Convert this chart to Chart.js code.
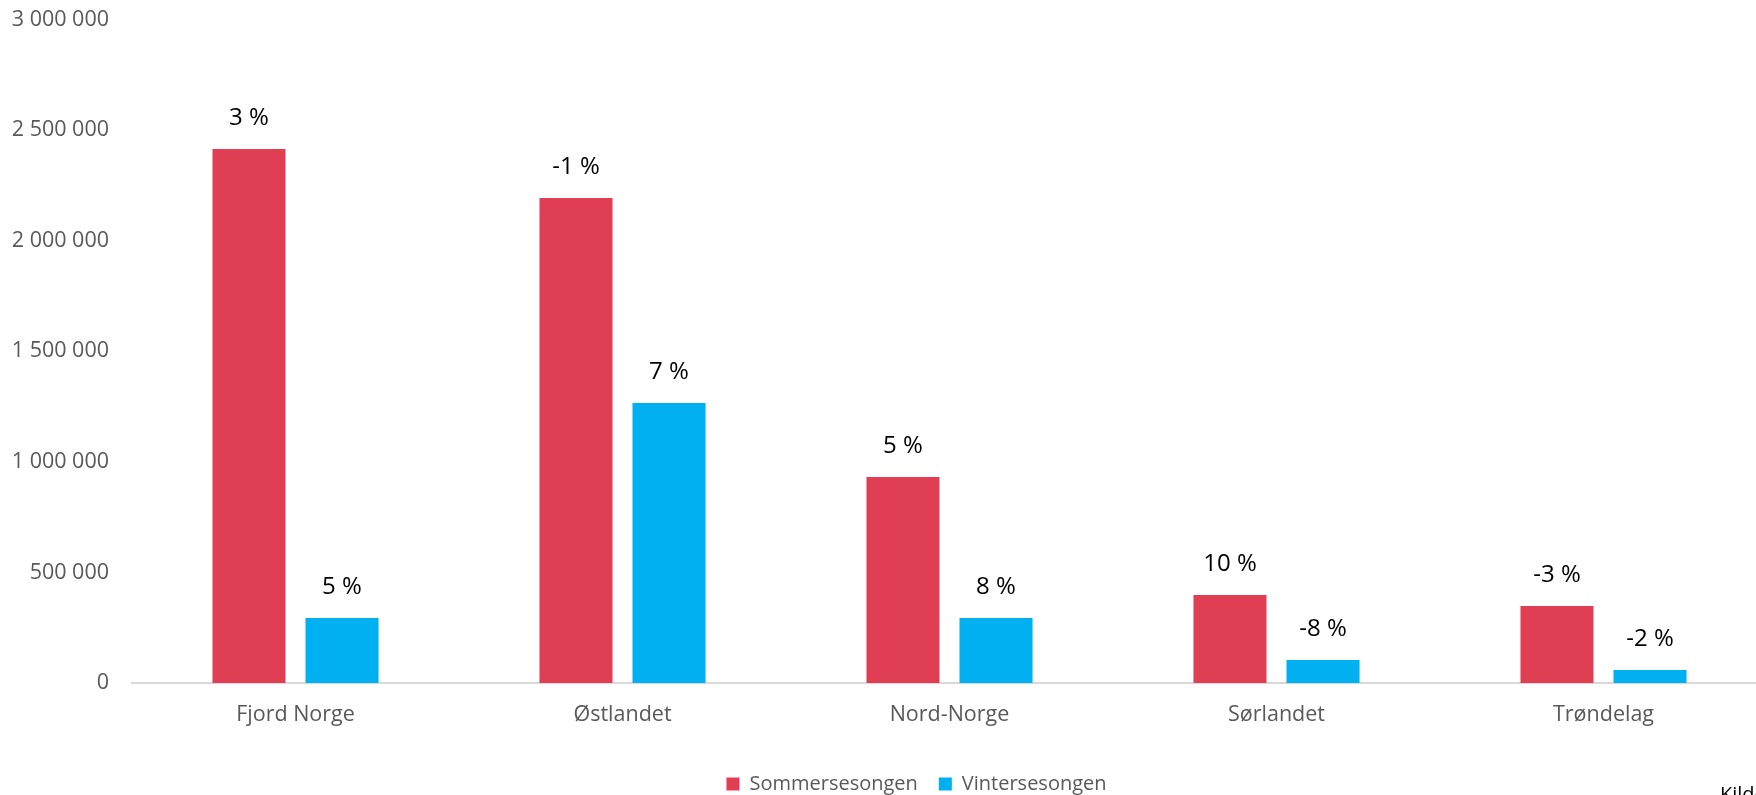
<!DOCTYPE html>
<html>
<head>
<meta charset="utf-8">
<script src="https://cdn.jsdelivr.net/npm/chart.js@4.4.1/dist/chart.umd.min.js"></script>
<style>
  html, body { margin: 0; padding: 0; background: #fff; }
  #wrap { width: 1756px; height: 795px; overflow: hidden; position: relative; }
  #box { width: 1770px; height: 804px; position: absolute; left: 0; top: 0; }
</style>
</head>
<body>
<div id="wrap"><div id="box"><canvas id="barChart"></canvas></div></div>
<script>
// Data

const regions = ['Fjord Norge', 'Østlandet', 'Nord-Norge', 'Sørlandet', 'Trøndelag'];
const summer = [2414000, 2193000, 931000, 398000, 348000];
const winter = [294000, 1266000, 294000, 104000, 59000];
const summerChange = [3, -1, 5, 10, -3];
const winterChange = [5, 7, 8, -8, -2];
const yTicks = [0, 500000, 1000000, 1500000, 2000000, 2500000, 3000000];

const red = '#E03E53';
const blue = '#00B0F0';
const grey = '#595959';

function spaced(v) {
    return String(v).replace(/\B(?=(\d{3})+(?!\d))/g, ' ');
}

// percent labels above the bars
const pctLabels = {
    id: 'pctLabels',
    afterDatasetsDraw(chart) {
        const ctx = chart.ctx;
        ctx.save();
        ctx.font = '24px "Open Sans"';
        ctx.fillStyle = '#000';
        ctx.textAlign = 'center';
        ctx.textBaseline = 'middle';
        chart.data.datasets.forEach((ds, i) => {
            chart.getDatasetMeta(i).data.forEach((bar, j) => {
                ctx.fillText(ds.changes[j] + ' %', bar.x, bar.y - 31);
            });
        });
        ctx.restore();
    }
};

// source note, cut off at the bottom right corner
const sourceNote = {
    id: 'sourceNote',
    afterDraw(chart) {
        const ctx = chart.ctx;
        ctx.save();
        ctx.font = '20px "Open Sans"';
        ctx.fillStyle = '#000';
        ctx.textBaseline = 'top';
        ctx.fillText('Kilde', 1720, 785);
        ctx.restore();
    }
};

// the original legend sits a bit right of the canvas centre
const legendShift = {
    id: 'legendShift',
    afterLayout(chart) {
        chart.legend.left += 33;
        chart.legend.right += 33;
    }
};

const myBarChart = new Chart(document.getElementById('barChart'), {
    type: 'bar',
    data: {
        labels: regions,
        datasets: [
            {
              label: 'Sommersesongen',
              data: summer,
              changes: summerChange,
              backgroundColor: red,
              categoryPercentage: 0.569,
              barPercentage: 0.785,
            },
            {
              label: 'Vintersesongen',
              data: winter,
              changes: winterChange,
              backgroundColor: blue,
              categoryPercentage: 0.569,
              barPercentage: 0.785,
            },
        ],
    },
    options: {
      responsive: true,
      maintainAspectRatio: false,
      animation: false,
      layout: { padding: { top: 0, left: 0, right: 3, bottom: 0 } },
      plugins: {
        tooltip: { enabled: false },
        legend: {
          position: 'bottom',
          labels: {
            boxWidth: 13,
            boxHeight: 13,
            padding: 21,
            color: grey,
            font: { family: 'Open Sans', size: 20 },
          }
        }
      },
      scales: {
        x: {
          grid: { display: false, drawTicks: false },
          border: { display: true, color: '#D9D9D9', width: 2 },
          ticks: { color: grey, padding: 19, font: { family: 'Open Sans', size: 21.5 } },
          afterFit(scale) { scale.height = 70; }
        },
        y: {
          min: 0,
          max: 3000000,
          grid: { display: false, drawTicks: false },
          border: { display: false },
          afterBuildTicks(scale) { scale.ticks = yTicks.map(v => ({ value: v })); },
          afterFit(scale) {
            scale.width = 132;
            scale.paddingTop = 19.5;
          },
          ticks: {
            color: grey,
            padding: 23,
            font: { family: 'Open Sans', size: 21.5 },
            callback: (v) => spaced(v),
          }
        }
      }
    },
    plugins: [pctLabels, sourceNote, legendShift]
});
</script>
</body>
</html>
